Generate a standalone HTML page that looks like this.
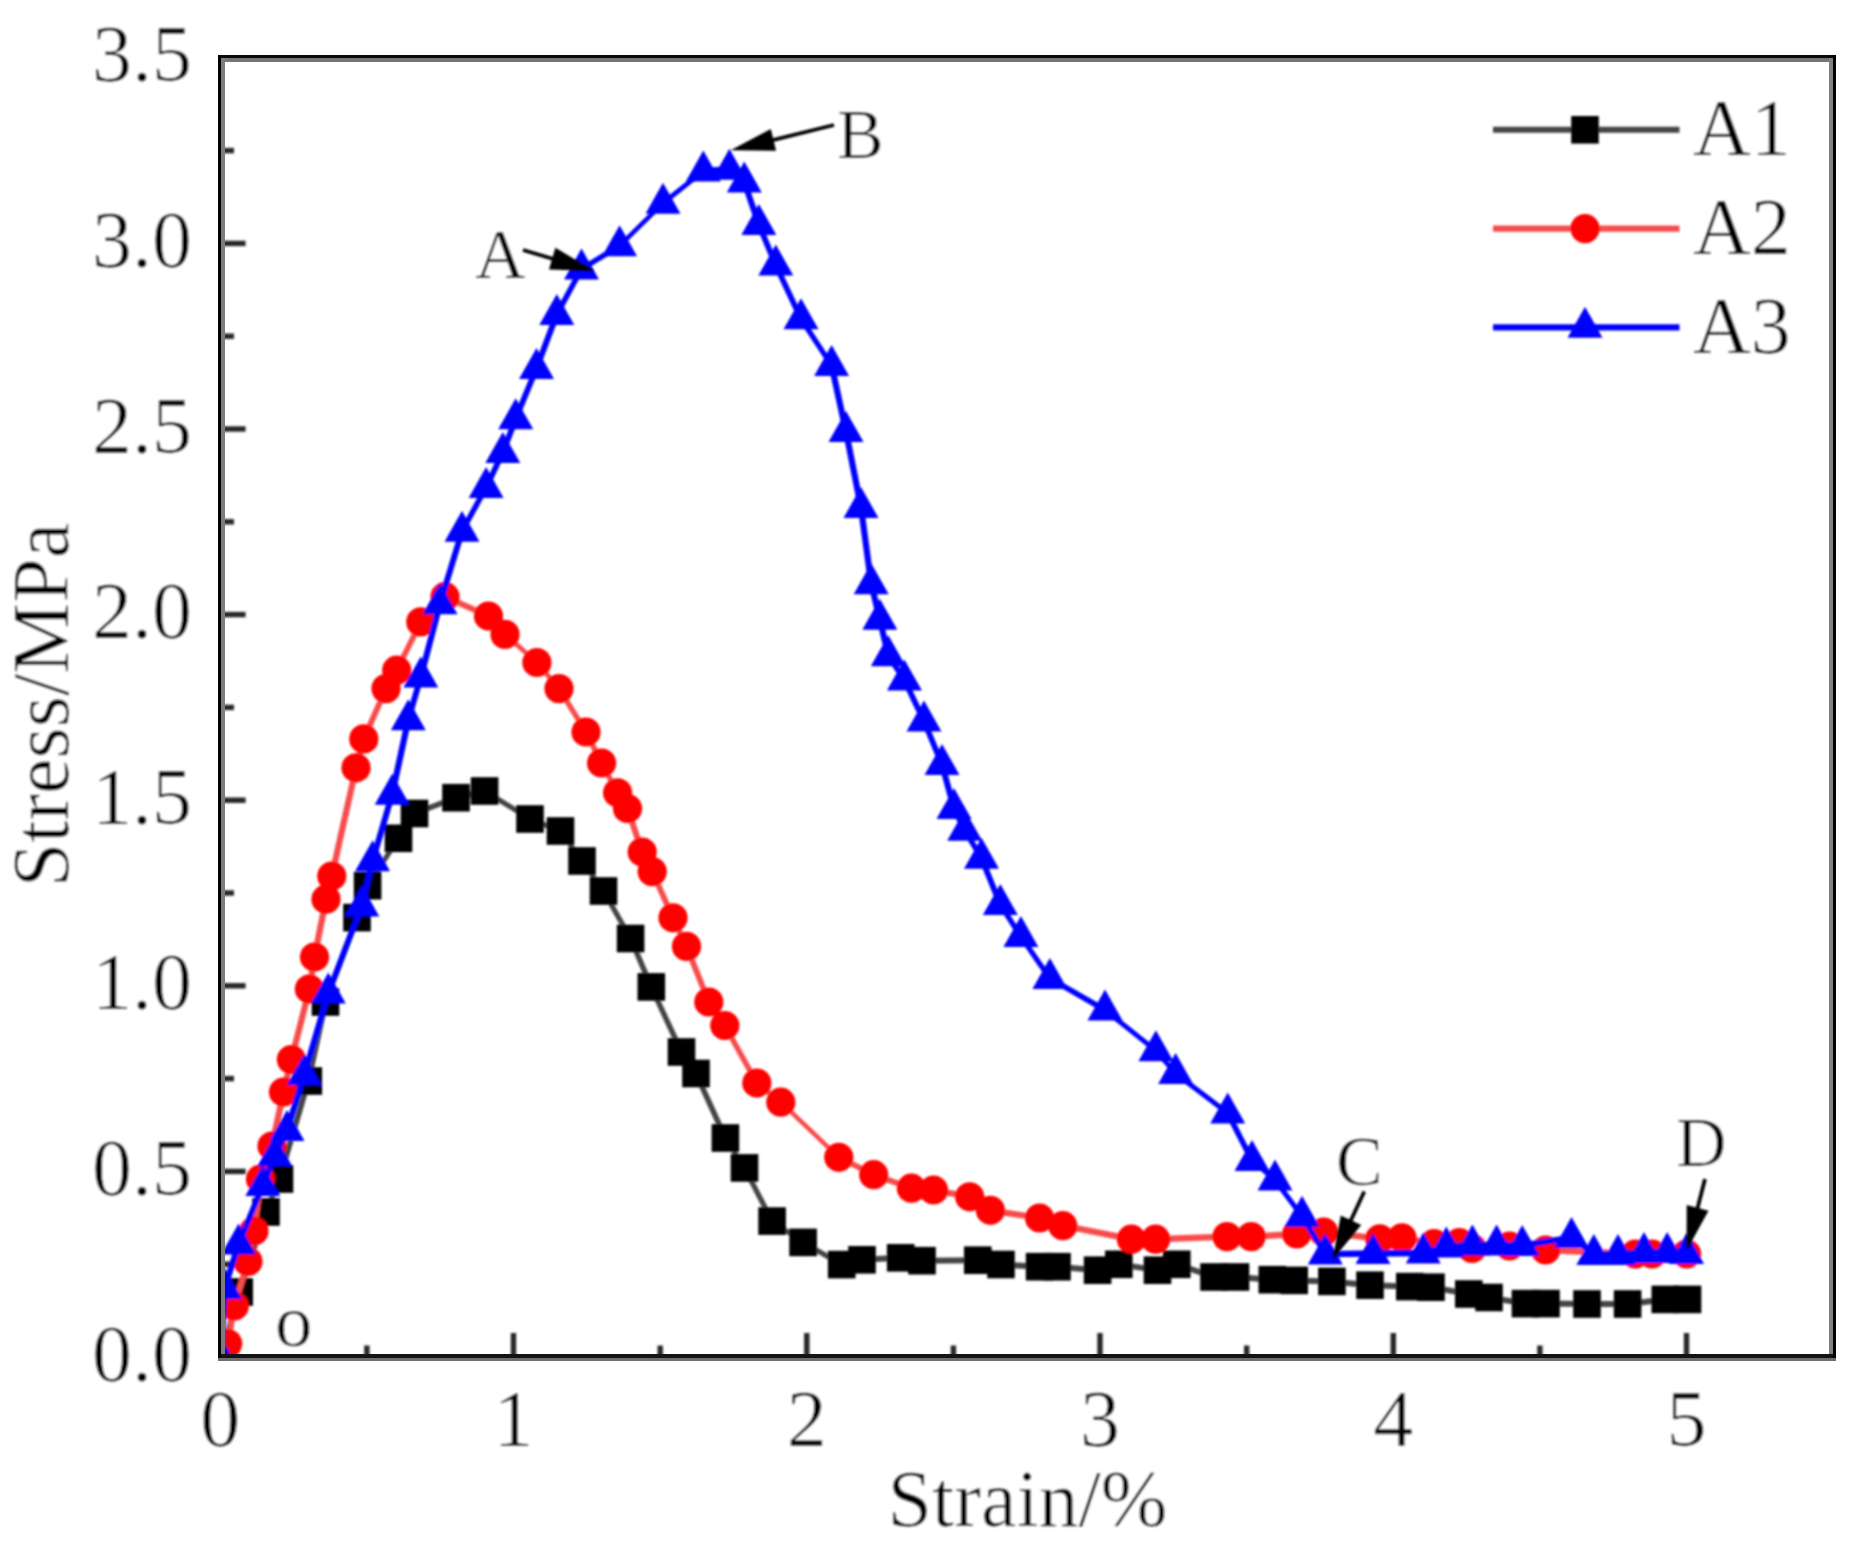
<!DOCTYPE html>
<html lang="en"><head><meta charset="utf-8"><title>Stress-strain curves</title>
<style>html,body{margin:0;padding:0;background:#fff}body{width:1862px;height:1552px;overflow:hidden}svg{display:block}text{font-family:"Liberation Serif", "Times New Roman", serif;fill:#000;stroke:#fff;stroke-width:0.7px}</style></head><body>
<svg width="1862" height="1552" viewBox="0 0 1862 1552">
<rect x="0" y="0" width="1862" height="1552" fill="#fff"/>
<defs><clipPath id="plot"><rect x="220.5" y="57" width="1613" height="1299"/></clipPath><filter id="soft" filterUnits="userSpaceOnUse" x="0" y="0" width="1862" height="1552"><feGaussianBlur stdDeviation="1.0"/></filter></defs>
<g filter="url(#soft)">
<g stroke="#262626" stroke-width="5.4" fill="none">
<line x1="221" y1="1264.2" x2="234" y2="1264.2"/>
<line x1="221" y1="1171.4" x2="245.6" y2="1171.4"/>
<line x1="221" y1="1078.6" x2="234" y2="1078.6"/>
<line x1="221" y1="985.8" x2="245.6" y2="985.8"/>
<line x1="221" y1="893" x2="234" y2="893"/>
<line x1="221" y1="800.2" x2="245.6" y2="800.2"/>
<line x1="221" y1="707.4" x2="234" y2="707.4"/>
<line x1="221" y1="614.6" x2="245.6" y2="614.6"/>
<line x1="221" y1="521.8" x2="234" y2="521.8"/>
<line x1="221" y1="429" x2="245.6" y2="429"/>
<line x1="221" y1="336.2" x2="234" y2="336.2"/>
<line x1="221" y1="243.4" x2="245.6" y2="243.4"/>
<line x1="221" y1="150.6" x2="234" y2="150.6"/>
<line x1="366.9" y1="1358" x2="366.9" y2="1345.5"/>
<line x1="513.5" y1="1358" x2="513.5" y2="1333"/>
<line x1="660.2" y1="1358" x2="660.2" y2="1345.5"/>
<line x1="806.8" y1="1358" x2="806.8" y2="1333"/>
<line x1="953.4" y1="1358" x2="953.4" y2="1345.5"/>
<line x1="1100" y1="1358" x2="1100" y2="1333"/>
<line x1="1246.7" y1="1358" x2="1246.7" y2="1345.5"/>
<line x1="1393.3" y1="1358" x2="1393.3" y2="1333"/>
<line x1="1539.9" y1="1358" x2="1539.9" y2="1345.5"/>
<line x1="1686.5" y1="1358" x2="1686.5" y2="1333"/>
</g>
<g clip-path="url(#plot)">
<g fill="none" stroke="#444444" stroke-linecap="round">
<line x1="221" y1="1357" x2="239.2" y2="1292" stroke-width="5.8"/>
<line x1="239.2" y1="1292" x2="266" y2="1212" stroke-width="5.7"/>
<line x1="266" y1="1212" x2="279.5" y2="1179" stroke-width="5.6"/>
<line x1="279.5" y1="1179" x2="308.3" y2="1081" stroke-width="5.8"/>
<line x1="308.3" y1="1081" x2="325.5" y2="1002" stroke-width="5.9"/>
<line x1="325.5" y1="1002" x2="357" y2="917.6" stroke-width="5.6"/>
<line x1="357" y1="917.6" x2="367.6" y2="885.7" stroke-width="5.7"/>
<line x1="367.6" y1="885.7" x2="398.5" y2="838.3" stroke-width="5"/>
<line x1="398.5" y1="838.3" x2="414.5" y2="813.5" stroke-width="5"/>
<line x1="414.5" y1="813.5" x2="456" y2="797.7" stroke-width="5.6"/>
<line x1="456" y1="797.7" x2="484.6" y2="791" stroke-width="5.8"/>
<line x1="484.6" y1="791" x2="530" y2="819" stroke-width="5.1"/>
<line x1="530" y1="819" x2="560.5" y2="831" stroke-width="5.6"/>
<line x1="560.5" y1="831" x2="582" y2="861" stroke-width="4.9"/>
<line x1="582" y1="861" x2="603.5" y2="891" stroke-width="4.9"/>
<line x1="603.5" y1="891" x2="630.6" y2="938.5" stroke-width="5.2"/>
<line x1="630.6" y1="938.5" x2="651.3" y2="986.9" stroke-width="5.5"/>
<line x1="651.3" y1="986.9" x2="681.5" y2="1052" stroke-width="5.4"/>
<line x1="681.5" y1="1052" x2="696" y2="1073.5" stroke-width="5"/>
<line x1="696" y1="1073.5" x2="725.4" y2="1138" stroke-width="5.5"/>
<line x1="725.4" y1="1138" x2="744.5" y2="1167.9" stroke-width="5.1"/>
<line x1="744.5" y1="1167.9" x2="772.1" y2="1221.1" stroke-width="5.3"/>
<line x1="772.1" y1="1221.1" x2="803.1" y2="1242.4" stroke-width="4.9"/>
<line x1="803.1" y1="1242.4" x2="841.7" y2="1264.6" stroke-width="5.2"/>
<line x1="841.7" y1="1264.6" x2="862" y2="1259.8" stroke-width="5.8"/>
<line x1="862" y1="1259.8" x2="900.7" y2="1257.8" stroke-width="6"/>
<line x1="900.7" y1="1257.8" x2="922" y2="1260.7" stroke-width="5.9"/>
<line x1="922" y1="1260.7" x2="977.8" y2="1260.2" stroke-width="6"/>
<line x1="977.8" y1="1260.2" x2="1001" y2="1264.5" stroke-width="5.9"/>
<line x1="1001" y1="1264.5" x2="1039.6" y2="1266.7" stroke-width="6"/>
<line x1="1039.6" y1="1266.7" x2="1057" y2="1266.7" stroke-width="6"/>
<line x1="1057" y1="1266.7" x2="1097.6" y2="1270.2" stroke-width="6"/>
<line x1="1097.6" y1="1270.2" x2="1118.8" y2="1264.3" stroke-width="5.8"/>
<line x1="1118.8" y1="1264.3" x2="1157.5" y2="1270.2" stroke-width="5.9"/>
<line x1="1157.5" y1="1270.2" x2="1176.8" y2="1264.3" stroke-width="5.7"/>
<line x1="1176.8" y1="1264.3" x2="1214" y2="1277" stroke-width="5.7"/>
<line x1="1214" y1="1277" x2="1235.5" y2="1277" stroke-width="6"/>
<line x1="1235.5" y1="1277" x2="1272.3" y2="1279.7" stroke-width="6"/>
<line x1="1272.3" y1="1279.7" x2="1294.2" y2="1280.4" stroke-width="6"/>
<line x1="1294.2" y1="1280.4" x2="1331.9" y2="1281.4" stroke-width="6"/>
<line x1="1331.9" y1="1281.4" x2="1370" y2="1285.2" stroke-width="6"/>
<line x1="1370" y1="1285.2" x2="1409.8" y2="1286.6" stroke-width="6"/>
<line x1="1409.8" y1="1286.6" x2="1431" y2="1287.2" stroke-width="6"/>
<line x1="1431" y1="1287.2" x2="1468.8" y2="1294" stroke-width="5.9"/>
<line x1="1468.8" y1="1294" x2="1489" y2="1297.5" stroke-width="5.9"/>
<line x1="1489" y1="1297.5" x2="1525.5" y2="1303.6" stroke-width="5.9"/>
<line x1="1525.5" y1="1303.6" x2="1546" y2="1303.6" stroke-width="6"/>
<line x1="1546" y1="1303.6" x2="1587" y2="1304" stroke-width="6"/>
<line x1="1587" y1="1304" x2="1627.6" y2="1304" stroke-width="6"/>
<line x1="1627.6" y1="1304" x2="1665.3" y2="1299.4" stroke-width="6"/>
<line x1="1665.3" y1="1299.4" x2="1687.5" y2="1299.4" stroke-width="6"/>
</g>
<g fill="#000">
<rect x="207.2" y="1343.2" width="27.6" height="27.6"/>
<rect x="225.4" y="1278.2" width="27.6" height="27.6"/>
<rect x="252.2" y="1198.2" width="27.6" height="27.6"/>
<rect x="265.7" y="1165.2" width="27.6" height="27.6"/>
<rect x="294.5" y="1067.2" width="27.6" height="27.6"/>
<rect x="311.7" y="988.2" width="27.6" height="27.6"/>
<rect x="343.2" y="903.8" width="27.6" height="27.6"/>
<rect x="353.8" y="871.9" width="27.6" height="27.6"/>
<rect x="384.7" y="824.5" width="27.6" height="27.6"/>
<rect x="400.7" y="799.7" width="27.6" height="27.6"/>
<rect x="442.2" y="783.9" width="27.6" height="27.6"/>
<rect x="470.8" y="777.2" width="27.6" height="27.6"/>
<rect x="516.2" y="805.2" width="27.6" height="27.6"/>
<rect x="546.7" y="817.2" width="27.6" height="27.6"/>
<rect x="568.2" y="847.2" width="27.6" height="27.6"/>
<rect x="589.7" y="877.2" width="27.6" height="27.6"/>
<rect x="616.8" y="924.7" width="27.6" height="27.6"/>
<rect x="637.5" y="973.1" width="27.6" height="27.6"/>
<rect x="667.7" y="1038.2" width="27.6" height="27.6"/>
<rect x="682.2" y="1059.7" width="27.6" height="27.6"/>
<rect x="711.6" y="1124.2" width="27.6" height="27.6"/>
<rect x="730.7" y="1154.1" width="27.6" height="27.6"/>
<rect x="758.3" y="1207.3" width="27.6" height="27.6"/>
<rect x="789.3" y="1228.6" width="27.6" height="27.6"/>
<rect x="827.9" y="1250.8" width="27.6" height="27.6"/>
<rect x="848.2" y="1246" width="27.6" height="27.6"/>
<rect x="886.9" y="1244" width="27.6" height="27.6"/>
<rect x="908.2" y="1246.9" width="27.6" height="27.6"/>
<rect x="964" y="1246.4" width="27.6" height="27.6"/>
<rect x="987.2" y="1250.7" width="27.6" height="27.6"/>
<rect x="1025.8" y="1252.9" width="27.6" height="27.6"/>
<rect x="1043.2" y="1252.9" width="27.6" height="27.6"/>
<rect x="1083.8" y="1256.4" width="27.6" height="27.6"/>
<rect x="1105" y="1250.5" width="27.6" height="27.6"/>
<rect x="1143.7" y="1256.4" width="27.6" height="27.6"/>
<rect x="1163" y="1250.5" width="27.6" height="27.6"/>
<rect x="1200.2" y="1263.2" width="27.6" height="27.6"/>
<rect x="1221.7" y="1263.2" width="27.6" height="27.6"/>
<rect x="1258.5" y="1265.9" width="27.6" height="27.6"/>
<rect x="1280.4" y="1266.6" width="27.6" height="27.6"/>
<rect x="1318.1" y="1267.6" width="27.6" height="27.6"/>
<rect x="1356.2" y="1271.4" width="27.6" height="27.6"/>
<rect x="1396" y="1272.8" width="27.6" height="27.6"/>
<rect x="1417.2" y="1273.4" width="27.6" height="27.6"/>
<rect x="1455" y="1280.2" width="27.6" height="27.6"/>
<rect x="1475.2" y="1283.7" width="27.6" height="27.6"/>
<rect x="1511.7" y="1289.8" width="27.6" height="27.6"/>
<rect x="1532.2" y="1289.8" width="27.6" height="27.6"/>
<rect x="1573.2" y="1290.2" width="27.6" height="27.6"/>
<rect x="1613.8" y="1290.2" width="27.6" height="27.6"/>
<rect x="1651.5" y="1285.6" width="27.6" height="27.6"/>
<rect x="1673.7" y="1285.6" width="27.6" height="27.6"/>
</g>
<g fill="none" stroke="#f84c4c" stroke-linecap="round">
<line x1="227.6" y1="1343.6" x2="234.3" y2="1306" stroke-width="6.3"/>
<line x1="234.3" y1="1306" x2="247.9" y2="1261.4" stroke-width="6.1"/>
<line x1="247.9" y1="1261.4" x2="254" y2="1231" stroke-width="6.3"/>
<line x1="254" y1="1231" x2="260.5" y2="1179" stroke-width="6.4"/>
<line x1="260.5" y1="1179" x2="272" y2="1146" stroke-width="6"/>
<line x1="272" y1="1146" x2="283.5" y2="1092" stroke-width="6.3"/>
<line x1="283.5" y1="1092" x2="291.4" y2="1059.6" stroke-width="6.2"/>
<line x1="291.4" y1="1059.6" x2="309.4" y2="989" stroke-width="6.2"/>
<line x1="309.4" y1="989" x2="314.5" y2="957" stroke-width="6.3"/>
<line x1="314.5" y1="957" x2="326" y2="899.2" stroke-width="6.3"/>
<line x1="326" y1="899.2" x2="331.8" y2="876" stroke-width="6.2"/>
<line x1="331.8" y1="876" x2="356" y2="767.8" stroke-width="6.2"/>
<line x1="356" y1="767.8" x2="363.8" y2="738.9" stroke-width="6.2"/>
<line x1="363.8" y1="738.9" x2="386" y2="688.6" stroke-width="5.9"/>
<line x1="386" y1="688.6" x2="396.7" y2="670.2" stroke-width="5.5"/>
<line x1="396.7" y1="670.2" x2="420.8" y2="621.9" stroke-width="5.7"/>
<line x1="420.8" y1="621.9" x2="445" y2="596.7" stroke-width="4.6"/>
<line x1="445" y1="596.7" x2="488.5" y2="616" stroke-width="5.9"/>
<line x1="488.5" y1="616" x2="505" y2="634.4" stroke-width="4.8"/>
<line x1="505" y1="634.4" x2="536.9" y2="662.5" stroke-width="4.8"/>
<line x1="536.9" y1="662.5" x2="559" y2="688.6" stroke-width="4.9"/>
<line x1="559" y1="688.6" x2="586" y2="732" stroke-width="5.4"/>
<line x1="586" y1="732" x2="601.6" y2="763" stroke-width="5.7"/>
<line x1="601.6" y1="763" x2="617.6" y2="792.8" stroke-width="5.6"/>
<line x1="617.6" y1="792.8" x2="627.5" y2="808.5" stroke-width="5.4"/>
<line x1="627.5" y1="808.5" x2="642.2" y2="852" stroke-width="6.1"/>
<line x1="642.2" y1="852" x2="652.2" y2="871.6" stroke-width="5.7"/>
<line x1="652.2" y1="871.6" x2="673" y2="917.8" stroke-width="5.8"/>
<line x1="673" y1="917.8" x2="686.5" y2="946.4" stroke-width="5.8"/>
<line x1="686.5" y1="946.4" x2="708.8" y2="1002" stroke-width="5.9"/>
<line x1="708.8" y1="1002" x2="724.8" y2="1025.5" stroke-width="5.3"/>
<line x1="724.8" y1="1025.5" x2="756.8" y2="1083" stroke-width="5.6"/>
<line x1="756.8" y1="1083" x2="780.8" y2="1102.2" stroke-width="5"/>
<line x1="780.8" y1="1102.2" x2="838.8" y2="1157.3" stroke-width="4.6"/>
<line x1="838.8" y1="1157.3" x2="873.7" y2="1174.7" stroke-width="5.7"/>
<line x1="873.7" y1="1174.7" x2="911.4" y2="1188.2" stroke-width="6"/>
<line x1="911.4" y1="1188.2" x2="933.5" y2="1190" stroke-width="6.4"/>
<line x1="933.5" y1="1190" x2="969.7" y2="1196.8" stroke-width="6.3"/>
<line x1="969.7" y1="1196.8" x2="990.4" y2="1210.3" stroke-width="5.4"/>
<line x1="990.4" y1="1210.3" x2="1039.6" y2="1218" stroke-width="6.3"/>
<line x1="1039.6" y1="1218" x2="1062.8" y2="1225.7" stroke-width="6.1"/>
<line x1="1062.8" y1="1225.7" x2="1131.4" y2="1239.2" stroke-width="6.3"/>
<line x1="1131.4" y1="1239.2" x2="1155.6" y2="1239.2" stroke-width="6.4"/>
<line x1="1155.6" y1="1239.2" x2="1227" y2="1236.6" stroke-width="6.4"/>
<line x1="1227" y1="1236.6" x2="1251.2" y2="1236.6" stroke-width="6.4"/>
<line x1="1251.2" y1="1236.6" x2="1296.7" y2="1234" stroke-width="6.4"/>
<line x1="1296.7" y1="1234" x2="1323.7" y2="1232" stroke-width="6.4"/>
<line x1="1323.7" y1="1232" x2="1379.8" y2="1238.9" stroke-width="6.4"/>
<line x1="1379.8" y1="1238.9" x2="1402" y2="1237.9" stroke-width="6.4"/>
<line x1="1402" y1="1237.9" x2="1434" y2="1243.7" stroke-width="6.3"/>
<line x1="1434" y1="1243.7" x2="1459.3" y2="1242.5" stroke-width="6.4"/>
<line x1="1459.3" y1="1242.5" x2="1472" y2="1248.4" stroke-width="5.8"/>
<line x1="1472" y1="1248.4" x2="1509.5" y2="1246" stroke-width="6.4"/>
<line x1="1509.5" y1="1246" x2="1545.6" y2="1250" stroke-width="6.4"/>
<line x1="1545.6" y1="1250" x2="1635.3" y2="1254" stroke-width="6.4"/>
<line x1="1635.3" y1="1254" x2="1652" y2="1254" stroke-width="6.4"/>
<line x1="1652" y1="1254" x2="1686.6" y2="1254" stroke-width="6.4"/>
</g>
<g fill="#ff0000">
<circle cx="227.6" cy="1343.6" r="14.6"/>
<circle cx="234.3" cy="1306" r="14.6"/>
<circle cx="247.9" cy="1261.4" r="14.6"/>
<circle cx="254" cy="1231" r="14.6"/>
<circle cx="260.5" cy="1179" r="14.6"/>
<circle cx="272" cy="1146" r="14.6"/>
<circle cx="283.5" cy="1092" r="14.6"/>
<circle cx="291.4" cy="1059.6" r="14.6"/>
<circle cx="309.4" cy="989" r="14.6"/>
<circle cx="314.5" cy="957" r="14.6"/>
<circle cx="326" cy="899.2" r="14.6"/>
<circle cx="331.8" cy="876" r="14.6"/>
<circle cx="356" cy="767.8" r="14.6"/>
<circle cx="363.8" cy="738.9" r="14.6"/>
<circle cx="386" cy="688.6" r="14.6"/>
<circle cx="396.7" cy="670.2" r="14.6"/>
<circle cx="420.8" cy="621.9" r="14.6"/>
<circle cx="445" cy="596.7" r="14.6"/>
<circle cx="488.5" cy="616" r="14.6"/>
<circle cx="505" cy="634.4" r="14.6"/>
<circle cx="536.9" cy="662.5" r="14.6"/>
<circle cx="559" cy="688.6" r="14.6"/>
<circle cx="586" cy="732" r="14.6"/>
<circle cx="601.6" cy="763" r="14.6"/>
<circle cx="617.6" cy="792.8" r="14.6"/>
<circle cx="627.5" cy="808.5" r="14.6"/>
<circle cx="642.2" cy="852" r="14.6"/>
<circle cx="652.2" cy="871.6" r="14.6"/>
<circle cx="673" cy="917.8" r="14.6"/>
<circle cx="686.5" cy="946.4" r="14.6"/>
<circle cx="708.8" cy="1002" r="14.6"/>
<circle cx="724.8" cy="1025.5" r="14.6"/>
<circle cx="756.8" cy="1083" r="14.6"/>
<circle cx="780.8" cy="1102.2" r="14.6"/>
<circle cx="838.8" cy="1157.3" r="14.6"/>
<circle cx="873.7" cy="1174.7" r="14.6"/>
<circle cx="911.4" cy="1188.2" r="14.6"/>
<circle cx="933.5" cy="1190" r="14.6"/>
<circle cx="969.7" cy="1196.8" r="14.6"/>
<circle cx="990.4" cy="1210.3" r="14.6"/>
<circle cx="1039.6" cy="1218" r="14.6"/>
<circle cx="1062.8" cy="1225.7" r="14.6"/>
<circle cx="1131.4" cy="1239.2" r="14.6"/>
<circle cx="1155.6" cy="1239.2" r="14.6"/>
<circle cx="1227" cy="1236.6" r="14.6"/>
<circle cx="1251.2" cy="1236.6" r="14.6"/>
<circle cx="1296.7" cy="1234" r="14.6"/>
<circle cx="1323.7" cy="1232" r="14.6"/>
<circle cx="1379.8" cy="1238.9" r="14.6"/>
<circle cx="1402" cy="1237.9" r="14.6"/>
<circle cx="1434" cy="1243.7" r="14.6"/>
<circle cx="1459.3" cy="1242.5" r="14.6"/>
<circle cx="1472" cy="1248.4" r="14.6"/>
<circle cx="1509.5" cy="1246" r="14.6"/>
<circle cx="1545.6" cy="1250" r="14.6"/>
<circle cx="1635.3" cy="1254" r="14.6"/>
<circle cx="1652" cy="1254" r="14.6"/>
<circle cx="1686.6" cy="1254" r="14.6"/>
</g>
<g fill="none" stroke="#0000ff" stroke-linecap="round">
<line x1="220.5" y1="1357" x2="224.5" y2="1288.6" stroke-width="6.3"/>
<line x1="224.5" y1="1288.6" x2="238.6" y2="1244" stroke-width="6"/>
<line x1="238.6" y1="1244" x2="262.8" y2="1185.5" stroke-width="5.8"/>
<line x1="262.8" y1="1185.5" x2="274.8" y2="1155.8" stroke-width="5.8"/>
<line x1="274.8" y1="1155.8" x2="287" y2="1130.5" stroke-width="5.7"/>
<line x1="287" y1="1130.5" x2="304.3" y2="1074.5" stroke-width="6"/>
<line x1="304.3" y1="1074.5" x2="328.3" y2="993" stroke-width="6"/>
<line x1="328.3" y1="993" x2="361.8" y2="906" stroke-width="5.9"/>
<line x1="361.8" y1="906" x2="372.6" y2="860.8" stroke-width="6.1"/>
<line x1="372.6" y1="860.8" x2="392.2" y2="794.2" stroke-width="6"/>
<line x1="392.2" y1="794.2" x2="408.3" y2="719.7" stroke-width="6.2"/>
<line x1="408.3" y1="719.7" x2="420.8" y2="677" stroke-width="6"/>
<line x1="420.8" y1="677" x2="440" y2="603.7" stroke-width="6.1"/>
<line x1="440" y1="603.7" x2="462" y2="531.3" stroke-width="6"/>
<line x1="462" y1="531.3" x2="486.1" y2="487.4" stroke-width="5.5"/>
<line x1="486.1" y1="487.4" x2="502.8" y2="452.6" stroke-width="5.7"/>
<line x1="502.8" y1="452.6" x2="515.7" y2="418.7" stroke-width="5.9"/>
<line x1="515.7" y1="418.7" x2="536.5" y2="368.4" stroke-width="5.8"/>
<line x1="536.5" y1="368.4" x2="556.8" y2="314.4" stroke-width="5.9"/>
<line x1="556.8" y1="314.4" x2="581.5" y2="269" stroke-width="5.5"/>
<line x1="581.5" y1="269" x2="619.6" y2="245.8" stroke-width="5.4"/>
<line x1="619.6" y1="245.8" x2="663" y2="203.2" stroke-width="4.5"/>
<line x1="663" y1="203.2" x2="703.3" y2="171.1" stroke-width="4.9"/>
<line x1="703.3" y1="171.1" x2="729.4" y2="169.2" stroke-width="6.3"/>
<line x1="729.4" y1="169.2" x2="744.3" y2="182" stroke-width="4.8"/>
<line x1="744.3" y1="182" x2="758.8" y2="224.5" stroke-width="6"/>
<line x1="758.8" y1="224.5" x2="775.8" y2="265.1" stroke-width="5.8"/>
<line x1="775.8" y1="265.1" x2="801" y2="318.7" stroke-width="5.7"/>
<line x1="801" y1="318.7" x2="831.6" y2="365.4" stroke-width="5.3"/>
<line x1="831.6" y1="365.4" x2="846" y2="431.6" stroke-width="6.2"/>
<line x1="846" y1="431.6" x2="861" y2="507.4" stroke-width="6.2"/>
<line x1="861" y1="507.4" x2="871.2" y2="583.8" stroke-width="6.2"/>
<line x1="871.2" y1="583.8" x2="879.8" y2="619.3" stroke-width="6.1"/>
<line x1="879.8" y1="619.3" x2="888.3" y2="655.7" stroke-width="6.1"/>
<line x1="888.3" y1="655.7" x2="904.4" y2="680" stroke-width="5.3"/>
<line x1="904.4" y1="680" x2="924" y2="721" stroke-width="5.7"/>
<line x1="924" y1="721" x2="942" y2="764.5" stroke-width="5.8"/>
<line x1="942" y1="764.5" x2="954" y2="808.4" stroke-width="6.1"/>
<line x1="954" y1="808.4" x2="964.7" y2="830.3" stroke-width="5.7"/>
<line x1="964.7" y1="830.3" x2="981.5" y2="858.2" stroke-width="5.4"/>
<line x1="981.5" y1="858.2" x2="1000.3" y2="904.6" stroke-width="5.8"/>
<line x1="1000.3" y1="904.6" x2="1020.9" y2="936.6" stroke-width="5.3"/>
<line x1="1020.9" y1="936.6" x2="1049.9" y2="978.4" stroke-width="5.2"/>
<line x1="1049.9" y1="978.4" x2="1105" y2="1010" stroke-width="5.5"/>
<line x1="1105" y1="1010" x2="1155.9" y2="1050.7" stroke-width="4.9"/>
<line x1="1155.9" y1="1050.7" x2="1175.6" y2="1073.5" stroke-width="4.8"/>
<line x1="1175.6" y1="1073.5" x2="1227.7" y2="1113" stroke-width="5"/>
<line x1="1227.7" y1="1113" x2="1252" y2="1160.4" stroke-width="5.6"/>
<line x1="1252" y1="1160.4" x2="1275" y2="1180" stroke-width="4.8"/>
<line x1="1275" y1="1180" x2="1302" y2="1216.2" stroke-width="5.1"/>
<line x1="1302" y1="1216.2" x2="1325.3" y2="1254.1" stroke-width="5.4"/>
<line x1="1325.3" y1="1254.1" x2="1373" y2="1253.5" stroke-width="6.3"/>
<line x1="1373" y1="1253.5" x2="1423.3" y2="1253" stroke-width="6.3"/>
<line x1="1423.3" y1="1253" x2="1446.3" y2="1247" stroke-width="6.1"/>
<line x1="1446.3" y1="1247" x2="1472.4" y2="1245" stroke-width="6.3"/>
<line x1="1472.4" y1="1245" x2="1496.6" y2="1245" stroke-width="6.3"/>
<line x1="1496.6" y1="1245" x2="1522.2" y2="1245.5" stroke-width="6.3"/>
<line x1="1522.2" y1="1245.5" x2="1571.5" y2="1237.5" stroke-width="6.2"/>
<line x1="1571.5" y1="1237.5" x2="1593.8" y2="1254.5" stroke-width="5"/>
<line x1="1593.8" y1="1254.5" x2="1618" y2="1254.5" stroke-width="6.3"/>
<line x1="1618" y1="1254.5" x2="1644" y2="1252.5" stroke-width="6.3"/>
<line x1="1644" y1="1252.5" x2="1667.2" y2="1252.5" stroke-width="6.3"/>
<line x1="1667.2" y1="1252.5" x2="1686.6" y2="1253.5" stroke-width="6.3"/>
</g>
<g fill="#0000ff">
<polygon points="220.5,1336.5 238,1367.5 203,1367.5"/>
<polygon points="224.5,1268.1 242,1299.1 207,1299.1"/>
<polygon points="238.6,1223.5 256.1,1254.5 221.1,1254.5"/>
<polygon points="262.8,1165 280.3,1196 245.3,1196"/>
<polygon points="274.8,1135.3 292.3,1166.3 257.3,1166.3"/>
<polygon points="287,1110 304.5,1141 269.5,1141"/>
<polygon points="304.3,1054 321.8,1085 286.8,1085"/>
<polygon points="328.3,972.5 345.8,1003.5 310.8,1003.5"/>
<polygon points="361.8,885.5 379.3,916.5 344.3,916.5"/>
<polygon points="372.6,840.3 390.1,871.3 355.1,871.3"/>
<polygon points="392.2,773.7 409.7,804.7 374.7,804.7"/>
<polygon points="408.3,699.2 425.8,730.2 390.8,730.2"/>
<polygon points="420.8,656.5 438.3,687.5 403.3,687.5"/>
<polygon points="440,583.2 457.5,614.2 422.5,614.2"/>
<polygon points="462,510.8 479.5,541.8 444.5,541.8"/>
<polygon points="486.1,466.9 503.6,497.9 468.6,497.9"/>
<polygon points="502.8,432.1 520.3,463.1 485.3,463.1"/>
<polygon points="515.7,398.2 533.2,429.2 498.2,429.2"/>
<polygon points="536.5,347.9 554,378.9 519,378.9"/>
<polygon points="556.8,293.9 574.3,324.9 539.3,324.9"/>
<polygon points="581.5,248.5 599,279.5 564,279.5"/>
<polygon points="619.6,225.3 637.1,256.3 602.1,256.3"/>
<polygon points="663,182.7 680.5,213.7 645.5,213.7"/>
<polygon points="703.3,150.6 720.8,181.6 685.8,181.6"/>
<polygon points="729.4,148.7 746.9,179.7 711.9,179.7"/>
<polygon points="744.3,161.5 761.8,192.5 726.8,192.5"/>
<polygon points="758.8,204 776.3,235 741.3,235"/>
<polygon points="775.8,244.6 793.3,275.6 758.3,275.6"/>
<polygon points="801,298.2 818.5,329.2 783.5,329.2"/>
<polygon points="831.6,344.9 849.1,375.9 814.1,375.9"/>
<polygon points="846,411.1 863.5,442.1 828.5,442.1"/>
<polygon points="861,486.9 878.5,517.9 843.5,517.9"/>
<polygon points="871.2,563.3 888.7,594.3 853.7,594.3"/>
<polygon points="879.8,598.8 897.3,629.8 862.3,629.8"/>
<polygon points="888.3,635.2 905.8,666.2 870.8,666.2"/>
<polygon points="904.4,659.5 921.9,690.5 886.9,690.5"/>
<polygon points="924,700.5 941.5,731.5 906.5,731.5"/>
<polygon points="942,744 959.5,775 924.5,775"/>
<polygon points="954,787.9 971.5,818.9 936.5,818.9"/>
<polygon points="964.7,809.8 982.2,840.8 947.2,840.8"/>
<polygon points="981.5,837.7 999,868.7 964,868.7"/>
<polygon points="1000.3,884.1 1017.8,915.1 982.8,915.1"/>
<polygon points="1020.9,916.1 1038.4,947.1 1003.4,947.1"/>
<polygon points="1049.9,957.9 1067.4,988.9 1032.4,988.9"/>
<polygon points="1105,989.5 1122.5,1020.5 1087.5,1020.5"/>
<polygon points="1155.9,1030.2 1173.4,1061.2 1138.4,1061.2"/>
<polygon points="1175.6,1053 1193.1,1084 1158.1,1084"/>
<polygon points="1227.7,1092.5 1245.2,1123.5 1210.2,1123.5"/>
<polygon points="1252,1139.9 1269.5,1170.9 1234.5,1170.9"/>
<polygon points="1275,1159.5 1292.5,1190.5 1257.5,1190.5"/>
<polygon points="1302,1195.7 1319.5,1226.7 1284.5,1226.7"/>
<polygon points="1325.3,1233.6 1342.8,1264.6 1307.8,1264.6"/>
<polygon points="1373,1233 1390.5,1264 1355.5,1264"/>
<polygon points="1423.3,1232.5 1440.8,1263.5 1405.8,1263.5"/>
<polygon points="1446.3,1226.5 1463.8,1257.5 1428.8,1257.5"/>
<polygon points="1472.4,1224.5 1489.9,1255.5 1454.9,1255.5"/>
<polygon points="1496.6,1224.5 1514.1,1255.5 1479.1,1255.5"/>
<polygon points="1522.2,1225 1539.7,1256 1504.7,1256"/>
<polygon points="1571.5,1217 1589,1248 1554,1248"/>
<polygon points="1593.8,1234 1611.3,1265 1576.3,1265"/>
<polygon points="1618,1234 1635.5,1265 1600.5,1265"/>
<polygon points="1644,1232 1661.5,1263 1626.5,1263"/>
<polygon points="1667.2,1232 1684.7,1263 1649.7,1263"/>
<polygon points="1686.6,1233 1704.1,1264 1669.1,1264"/>
</g>
</g>
</g>
<g shape-rendering="crispEdges">
<rect x="218" y="54.8" width="1618" height="3.4" fill="#0a0a0a"/>
<rect x="221.4" y="58.2" width="1611" height="3.4" fill="#757575"/>
<rect x="218" y="1354.3" width="1618" height="3.4" fill="#141414"/>
<rect x="218" y="1357.7" width="1618" height="3.3" fill="#6e6e6e"/>
<rect x="218" y="54.8" width="3.4" height="1303" fill="#000"/>
<rect x="221.4" y="58.2" width="3.4" height="1296.2" fill="#7d7d7d"/>
<rect x="1832.5" y="54.8" width="3.5" height="1303" fill="#000"/>
<rect x="1829" y="58.2" width="3.5" height="1296.2" fill="#808080"/>
</g>
<g filter="url(#soft)">
<g font-size="80" text-anchor="end">
<text x="192" y="1380.5">0.0</text>
<text x="192" y="1194.9">0.5</text>
<text x="192" y="1009.3">1.0</text>
<text x="192" y="823.7">1.5</text>
<text x="192" y="638.1">2.0</text>
<text x="192" y="452.5">2.5</text>
<text x="192" y="266.9">3.0</text>
<text x="192" y="81.3">3.5</text>
</g>
<g font-size="80" text-anchor="middle">
<text x="220.3" y="1446">0</text>
<text x="513.5" y="1446">1</text>
<text x="806.8" y="1446">2</text>
<text x="1100" y="1446">3</text>
<text x="1393.3" y="1446">4</text>
<text x="1686.5" y="1446">5</text>
</g>
<text x="1027.5" y="1526" font-size="80" text-anchor="middle">Strain/%</text>
<text transform="translate(68 705) rotate(-90)" font-size="80" text-anchor="middle">Stress/MPa</text>
<line x1="1493" y1="129.8" x2="1679.5" y2="129.8" stroke="#444444" stroke-width="6.0"/>
<rect x="1571.2" y="116" width="27.6" height="27.6" fill="#000"/>
<text x="1693" y="155.3" font-size="80">A1</text>
<line x1="1493" y1="228.6" x2="1679.5" y2="228.6" stroke="#f84c4c" stroke-width="6.4"/>
<circle cx="1585" cy="228.6" r="14.6" fill="#ff0000"/>
<text x="1693" y="254.1" font-size="80">A2</text>
<line x1="1493" y1="327.3" x2="1679.5" y2="327.3" stroke="#0000ff" stroke-width="6.3"/>
<polygon points="1585,306.8 1602.5,337.8 1567.5,337.8" fill="#0000ff"/>
<text x="1693" y="352.8" font-size="80">A3</text>
<line x1="523" y1="250" x2="556" y2="259.7" stroke="#000" stroke-width="3.8"/>
<polygon points="594.4,271 549,269.4 555.4,247.8" fill="#000"/>
<line x1="834" y1="125" x2="769.6" y2="140.8" stroke="#000" stroke-width="3.8"/>
<polygon points="730.7,150.3 770.8,128.9 776.1,150.8" fill="#000"/>
<line x1="1364.3" y1="1191.5" x2="1349.3" y2="1223.7" stroke="#000" stroke-width="3.8"/>
<polygon points="1332.4,1260 1340.8,1215.4 1361.2,1224.9" fill="#000"/>
<line x1="1705" y1="1179" x2="1696.6" y2="1211.8" stroke="#000" stroke-width="3.8"/>
<polygon points="1686.6,1250.5 1686.7,1205.1 1708.5,1210.7" fill="#000"/>
<g font-size="70">
<text x="475" y="278">A</text>
<text x="837" y="157.5">B</text>
<text x="1336" y="1185">C</text>
<text x="1676" y="1166">D</text>
<text x="275" y="1345.5" font-size="75">o</text>
</g>
</g>
</svg></body></html>
